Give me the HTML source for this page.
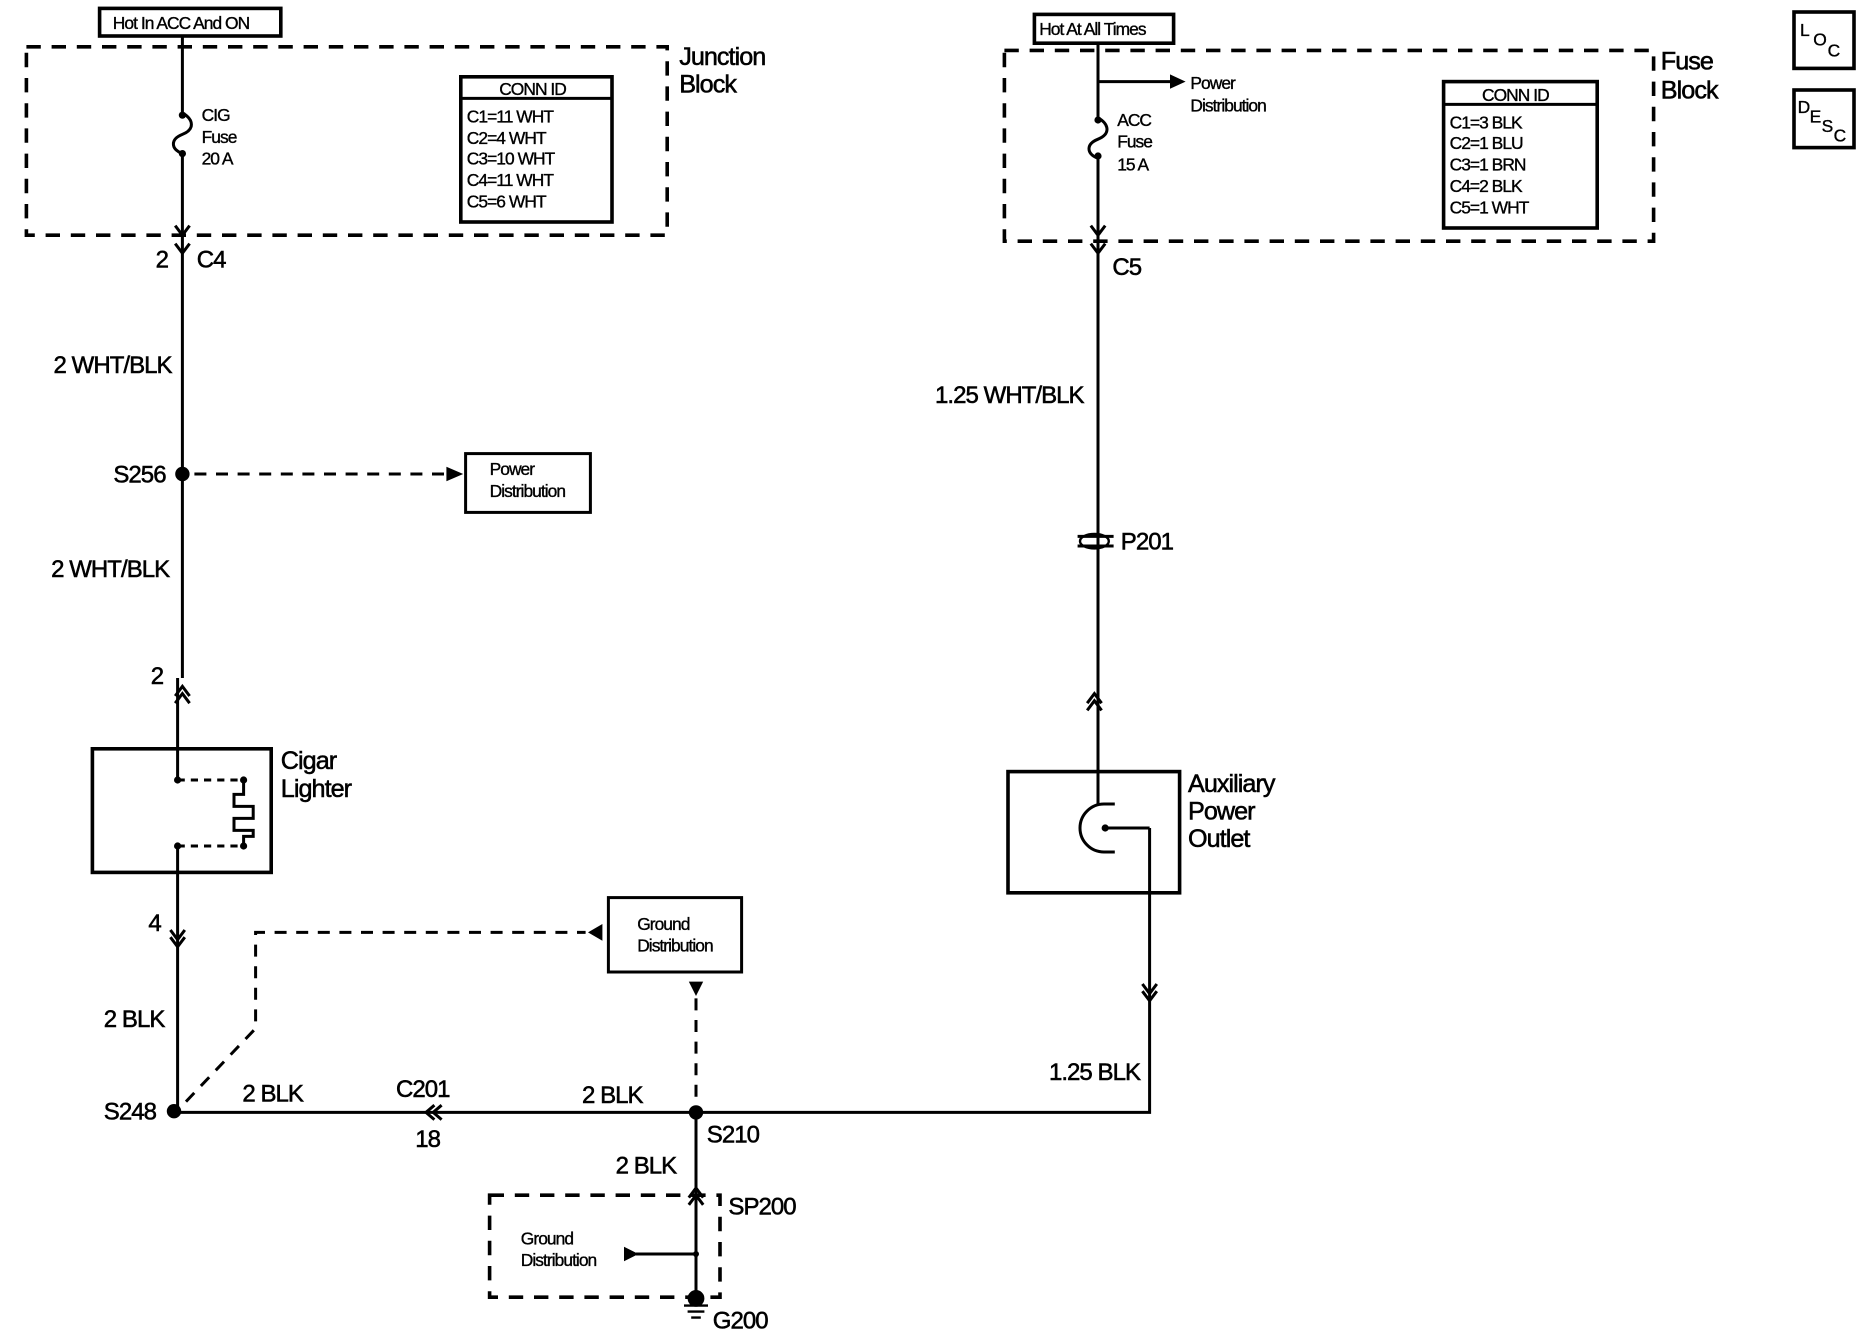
<!DOCTYPE html>
<html><head><meta charset="utf-8"><style>
html,body{margin:0;padding:0;background:#fff}
svg{display:block}
text{font-family:"Liberation Sans",sans-serif;fill:#000;letter-spacing:-0.8px;stroke:#000;stroke-width:0.45px}
.b{font-size:21px}
.s{font-size:14.5px;stroke-width:0.3px}
.m{font-size:20px}
</style></head><body>
<svg width="1872" height="1344" viewBox="0 0 1560 1120" xmlns="http://www.w3.org/2000/svg">
<g fill="none" stroke="#000" stroke-width="2.5">
<rect x="83" y="7" width="151" height="23" stroke-width="3"/>
<rect x="22" y="39" width="534" height="157" stroke-dasharray="12,9" stroke-width="3"/>
<rect x="384" y="64" width="126" height="121" stroke-width="3"/>
<line x1="384" y1="82" x2="510" y2="82"/>
<path d="M152 30 V94 C162 100 162 108 152 112 C142 116 142 124 152 128 V565"/>
<path d="M146 188 L152 196 L158 188"/>
<path d="M146 203 L152 211 L158 203"/>
<path d="M162 395 H378" stroke-dasharray="10,8"/>
<rect x="388" y="378" width="104" height="49"/>
<path d="M146 580 L152 572 L158 580 M146 586 L152 578 L158 586"/>
<rect x="77" y="624" width="149" height="103" stroke-width="3"/>
<path d="M148 565 V650 M148 705 V925"/>
<path d="M148 650 H203 M148 705 H203" stroke-dasharray="6,5"/>
<path d="M203 650 V662 H195 V672 H211 V682 H195 V692 H211 V697 H203 V705"/>
<path d="M142 775 L148 783 L154 775 M142 781 L148 789 L154 781"/>
<path d="M155 918 L213 857 V777 H488" stroke-dasharray="10,8"/>
<rect x="507" y="748" width="111" height="62"/>
<path d="M580 832 V926" stroke-dasharray="10,8"/>
<path d="M145 927 H958 V690"/>
<path d="M362 921 L355 927 L362 933 M368 921 L361 927 L368 933"/>
<path d="M952 820 L958 828 L964 820 M952 826 L958 834 L964 826"/>
<path d="M580 927 V1080"/>
<path d="M574 998 L580 990 L586 998 M574 1004 L580 996 L586 1004"/>
<rect x="408" y="996" width="192" height="85" stroke-dasharray="12,9" stroke-width="3"/>
<path d="M530 1045 H580"/>
<path d="M570 1088 H590 M573 1093 H587 M576 1098 H584" stroke-width="2"/>
<rect x="862" y="12" width="116" height="24" stroke-width="3"/>
<rect x="837" y="42" width="541" height="159" stroke-dasharray="12,9" stroke-width="3"/>
<rect x="1203" y="68" width="128" height="122" stroke-width="3"/>
<line x1="1203" y1="87" x2="1331" y2="87"/>
<path d="M915 36 V98 C925 104 925 112 915 116 C905 120 905 128 915 132 V670"/>
<path d="M915 68 H976"/>
<path d="M909 188 L915 196 L921 188 M909 203 L915 211 L921 203"/>
<path d="M898 447 H928 M898 455 H928"/>
<path d="M906 586 L912 578 L918 586 M906 592 L912 584 L918 592"/>
<rect x="840" y="643" width="143" height="101" stroke-width="3"/>
<path d="M929 670 H920 A20 20 0 0 0 920 710 H929"/>
<path d="M921 690 H958"/>
<rect x="1495" y="10" width="50" height="47" stroke-width="3"/>
<rect x="1495" y="75" width="50" height="48" stroke-width="3"/>
</g>
<g fill="#000">
<circle cx="152" cy="96" r="3"/><circle cx="152" cy="128" r="3"/>
<circle cx="915" cy="100" r="3"/><circle cx="915" cy="130" r="3"/>
<circle cx="152" cy="395" r="6"/>
<circle cx="145" cy="926" r="6"/>
<circle cx="580" cy="927" r="6"/>
<circle cx="148" cy="650" r="3"/><circle cx="203" cy="650" r="3"/>
<circle cx="148" cy="705" r="3"/><circle cx="203" cy="705" r="3"/>
<circle cx="921" cy="690" r="3"/>
<circle cx="580" cy="1045" r="2.5"/>
<circle cx="580" cy="1082" r="7"/>
<path d="M386 395 L372 389 L372 401 Z"/>
<path d="M988 68 L975 62 L975 74 Z"/>
<path d="M490 777 L502 770 L502 784 Z"/>
<path d="M580 830 L574 818 L586 818 Z"/>
<path d="M532 1045 L520 1039 L520 1051 Z"/>
<ellipse cx="912" cy="451" rx="12" ry="6" fill="none" stroke="#000" stroke-width="2"/>
</g>
<text x="94" y="24" class="s">Hot In ACC And ON</text>
<text x="566" y="54" class="b">Junction</text>
<text x="566" y="77" class="b">Block</text>
<text x="168" y="101" class="s">CIG</text>
<text x="168" y="119" class="s">Fuse</text>
<text x="168" y="137" class="s">20 A</text>
<text x="416" y="79" class="s">CONN ID</text>
<text x="389" y="102" class="s">C1=11 WHT</text>
<text x="389" y="120" class="s">C2=4 WHT</text>
<text x="389" y="137" class="s">C3=10 WHT</text>
<text x="389" y="155" class="s">C4=11 WHT</text>
<text x="389" y="173" class="s">C5=6 WHT</text>
<text x="140" y="223" class="m" text-anchor="end">2</text>
<text x="164" y="223" class="m">C4</text>
<text x="143" y="311" class="m" text-anchor="end">2 WHT/BLK</text>
<text x="138" y="402" class="m" text-anchor="end">S256</text>
<text x="408" y="396" class="s">Power</text>
<text x="408" y="414" class="s">Distribution</text>
<text x="141" y="481" class="m" text-anchor="end">2 WHT/BLK</text>
<text x="136" y="570" class="m" text-anchor="end">2</text>
<text x="234" y="641" class="b">Cigar</text>
<text x="234" y="664" class="b">Lighter</text>
<text x="134" y="776" class="m" text-anchor="end">4</text>
<text x="137" y="856" class="m" text-anchor="end">2 BLK</text>
<text x="130" y="933" class="m" text-anchor="end">S248</text>
<text x="531" y="775" class="s">Ground</text>
<text x="531" y="793" class="s">Distribution</text>
<text x="202" y="918" class="m">2 BLK</text>
<text x="330" y="914" class="m">C201</text>
<text x="346" y="956" class="m">18</text>
<text x="485" y="919" class="m">2 BLK</text>
<text x="589" y="952" class="m">S210</text>
<text x="513" y="978" class="m">2 BLK</text>
<text x="607" y="1012" class="m">SP200</text>
<text x="434" y="1037" class="s">Ground</text>
<text x="434" y="1055" class="s">Distribution</text>
<text x="594" y="1107" class="m">G200</text>
<text x="866" y="29" class="s">Hot At All Times</text>
<text x="1384" y="58" class="b">Fuse</text>
<text x="1384" y="82" class="b">Block</text>
<text x="992" y="74" class="s">Power</text>
<text x="992" y="93" class="s">Distribution</text>
<text x="931" y="105" class="s">ACC</text>
<text x="931" y="123" class="s">Fuse</text>
<text x="931" y="142" class="s">15 A</text>
<text x="1235" y="84" class="s">CONN ID</text>
<text x="1208" y="107" class="s">C1=3 BLK</text>
<text x="1208" y="124" class="s">C2=1 BLU</text>
<text x="1208" y="142" class="s">C3=1 BRN</text>
<text x="1208" y="160" class="s">C4=2 BLK</text>
<text x="1208" y="178" class="s">C5=1 WHT</text>
<text x="927" y="229" class="m">C5</text>
<text x="903" y="336" class="m" text-anchor="end">1.25 WHT/BLK</text>
<text x="934" y="458" class="m">P201</text>
<text x="990" y="660" class="b">Auxiliary</text>
<text x="990" y="683" class="b">Power</text>
<text x="990" y="706" class="b">Outlet</text>
<text x="950" y="900" class="m" text-anchor="end">1.25 BLK</text>
<text x="1500" y="30" class="s">L</text><text x="1511" y="38" class="s">O</text><text x="1523" y="47" class="s">C</text>
<text x="1498" y="94" class="s">D</text><text x="1508" y="102" class="s">E</text><text x="1518" y="110" class="s">S</text><text x="1528" y="118" class="s">C</text>
</svg>
</body></html>
